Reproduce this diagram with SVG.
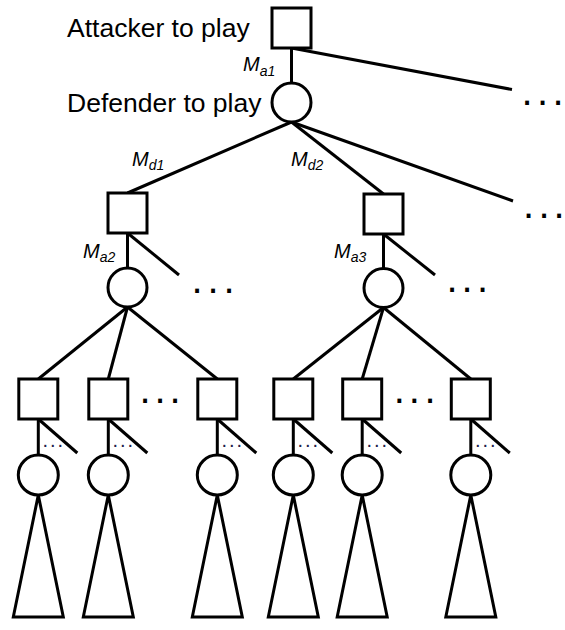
<svg xmlns="http://www.w3.org/2000/svg" width="565" height="630" viewBox="0 0 565 630">
<style>
.n{fill:#fff;stroke:#000;stroke-width:3}
.t{fill:#fff;stroke:#000;stroke-width:3;stroke-linejoin:miter}
.c line{stroke:#000;stroke-width:3}
.lbl{font-family:"Liberation Sans",Arial,sans-serif;font-size:26.5px;fill:#000}
.m{font-family:"Liberation Sans",Arial,sans-serif;font-style:italic;font-size:20px;fill:#000}
.m tspan{font-size:14px}
.dots{font-family:"Liberation Sans",Arial,sans-serif;font-size:40px;fill:#000}
.sd{font-family:"Liberation Sans",Arial,sans-serif;font-size:20px;fill:#202048}
</style>
<rect width="565" height="630" fill="#fff"/>
<g id="connectors" class="c">
<line x1="291.5" y1="48" x2="291.5" y2="83"/>
<line x1="291.5" y1="48" x2="512" y2="89.5"/>
<line x1="291.5" y1="122" x2="127.5" y2="193"/>
<line x1="291.5" y1="122" x2="383.5" y2="194"/>
<line x1="291.5" y1="122" x2="513" y2="201"/>
<line x1="127.5" y1="233" x2="127.5" y2="268"/>
<line x1="127.5" y1="233" x2="179" y2="275"/>
<line x1="383.5" y1="234" x2="383.5" y2="268.5"/>
<line x1="383.5" y1="234" x2="435" y2="275"/>
<line x1="127.5" y1="307" x2="38.3" y2="379"/>
<line x1="127.5" y1="307" x2="108.3" y2="379"/>
<line x1="127.5" y1="307" x2="217.3" y2="379"/>
<line x1="383.5" y1="307.5" x2="293.3" y2="379"/>
<line x1="383.5" y1="307.5" x2="362.2" y2="379"/>
<line x1="383.5" y1="307.5" x2="470.8" y2="379"/>
<line x1="38.3" y1="419" x2="38.3" y2="455"/>
<line x1="38.3" y1="419" x2="77.3" y2="453"/>
<line x1="108.3" y1="419" x2="108.3" y2="455"/>
<line x1="108.3" y1="419" x2="147.3" y2="453"/>
<line x1="217.3" y1="419" x2="217.3" y2="455"/>
<line x1="217.3" y1="419" x2="256.3" y2="453"/>
<line x1="293.3" y1="419" x2="293.3" y2="455"/>
<line x1="293.3" y1="419" x2="332.3" y2="453"/>
<line x1="362.2" y1="419" x2="362.2" y2="455"/>
<line x1="362.2" y1="419" x2="401.2" y2="453"/>
<line x1="470.8" y1="419" x2="470.8" y2="455"/>
<line x1="470.8" y1="419" x2="509.8" y2="453"/>
</g>
<g id="labels">
<text class="lbl" x="67" y="37">Attacker to play</text>
<text class="lbl" x="67" y="112">Defender to play</text>
<text class="m" x="243" y="71">M<tspan dy="4.5">a1</tspan></text>
<text class="m" x="132" y="166">M<tspan dy="3.5">d1</tspan></text>
<text class="m" x="291" y="166">M<tspan dy="3.5">d2</tspan></text>
<text class="m" x="83" y="257.5">M<tspan dy="4">a2</tspan></text>
<text class="m" x="334" y="257.5">M<tspan dy="4">a3</tspan></text>
<text class="dots" x="521.5 537 552.5" y="105">...</text>
<text class="dots" x="523 538.5 553.5" y="217.8">...</text>
<text class="dots" x="191.5 207.5 223.5" y="293">...</text>
<text class="dots" x="446.5 461.5 477" y="292">...</text>
<text class="dots" x="139.5 154.5 169.5" y="402.8">...</text>
<text class="dots" x="393.8 408.8 424.5" y="402.8">...</text>
<text class="sd" x="42.5 50 57.5" y="447">...</text>
<text class="sd" x="112.5 120 127.5" y="447">...</text>
<text class="sd" x="221.5 229 236.5" y="447">...</text>
<text class="sd" x="297.5 305 312.5" y="447">...</text>
<text class="sd" x="366.4 373.9 381.4" y="447">...</text>
<text class="sd" x="475 482.5 490" y="447">...</text>
</g>
<g id="root"><rect class="n" x="272" y="8" width="39" height="40"/></g>
<g id="d0"><circle class="n" cx="291.5" cy="102.5" r="19.5"/></g>
<g id="a1"><rect class="n" x="108" y="193" width="39" height="40"/></g>
<g id="a2"><rect class="n" x="364" y="194" width="39" height="40"/></g>
<g id="d1"><circle class="n" cx="127.5" cy="287.5" r="19.5"/></g>
<g id="d2"><circle class="n" cx="383.5" cy="288" r="19.5"/></g>
<g id="s1"><rect class="n" x="18.8" y="379" width="39" height="40"/></g>
<g id="s2"><rect class="n" x="88.8" y="379" width="39" height="40"/></g>
<g id="s3"><rect class="n" x="197.8" y="379" width="39" height="40"/></g>
<g id="s4"><rect class="n" x="273.8" y="379" width="39" height="40"/></g>
<g id="s5"><rect class="n" x="342.7" y="379" width="39" height="40"/></g>
<g id="s6"><rect class="n" x="451.3" y="379" width="39" height="40"/></g>
<g id="c1"><circle class="n" cx="38.3" cy="475" r="20"/></g>
<g id="c2"><circle class="n" cx="108.3" cy="475" r="20"/></g>
<g id="c3"><circle class="n" cx="217.3" cy="475" r="20"/></g>
<g id="c4"><circle class="n" cx="293.3" cy="475" r="20"/></g>
<g id="c5"><circle class="n" cx="362.2" cy="475" r="20"/></g>
<g id="c6"><circle class="n" cx="470.8" cy="475" r="20"/></g>
<g id="t1"><polygon class="t" points="38.3,495 13.3,617 63.3,617"/></g>
<g id="t2"><polygon class="t" points="108.3,495 83.3,617 133.3,617"/></g>
<g id="t3"><polygon class="t" points="217.3,495 192.3,617 242.3,617"/></g>
<g id="t4"><polygon class="t" points="293.3,495 268.3,617 318.3,617"/></g>
<g id="t5"><polygon class="t" points="362.2,495 337.2,617 387.2,617"/></g>
<g id="t6"><polygon class="t" points="470.8,495 445.8,617 495.8,617"/></g>
</svg>
